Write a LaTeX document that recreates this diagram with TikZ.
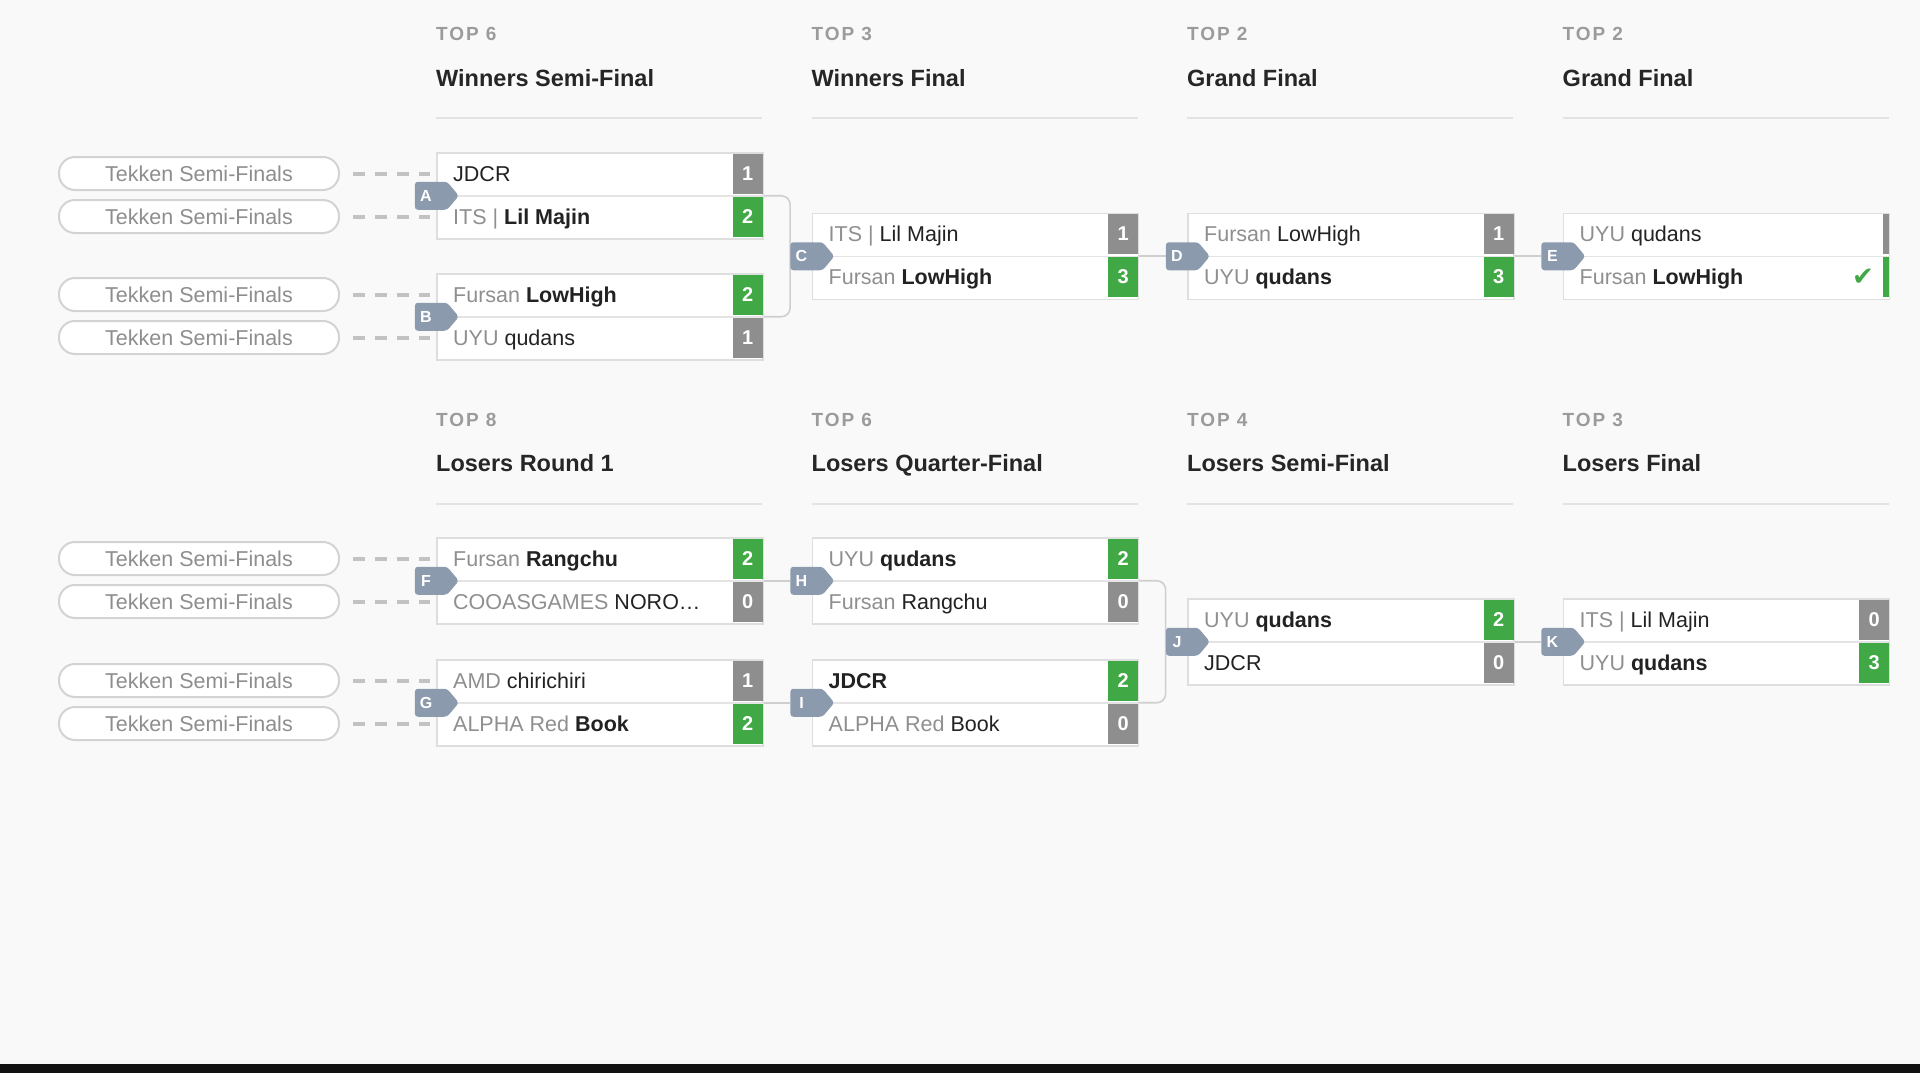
\documentclass[tikz,border=0pt]{standalone}
\usepackage{fontspec}
\setmainfont{Liberation Sans}
\newfontfamily\topfont[LetterSpace=10]{Liberation Sans}
\newfontfamily\symfont{DejaVu Sans}
\usetikzlibrary{calc,shapes.symbols}
\definecolor{bgc}{HTML}{F9F9F9}
\definecolor{boxc}{HTML}{DEDEDE}
\definecolor{divc}{HTML}{E4E4E4}
\definecolor{losecol}{HTML}{8E8E8E}
\definecolor{wincol}{HTML}{41A846}
\definecolor{badgec}{HTML}{8C9AAE}
\definecolor{pillc}{HTML}{D3D3D3}
\definecolor{pilltext}{HTML}{8E8E8E}
\definecolor{prec}{HTML}{8F8F8F}
\definecolor{namec}{HTML}{222222}
\definecolor{topc}{HTML}{9B9B9B}
\definecolor{titlec}{HTML}{262626}
\definecolor{sepc}{HTML}{E3E3E3}
\definecolor{dashc}{HTML}{C2C2C2}
\definecolor{linkc}{HTML}{CFCFCF}
\definecolor{barc}{HTML}{111111}
\newcommand\fsz[1]{\fontsize{#1}{#1}\selectfont}
\newcommand\ptag[1]{{\color{prec}#1}}
\newcommand\pwin[1]{{\bfseries #1}}
\pgfdeclarelayer{bglayer}
\pgfdeclarelayer{links}
\pgfsetlayers{bglayer,links,main}
\tikzset{
  matchbox/.style={draw=boxc, line width=1.5pt, fill=white, minimum width=326pt, minimum height=86pt, inner sep=0pt, anchor=north west},
  divline/.style={draw=divc, line width=1.5pt},
  rowtext/.style={anchor=base west, inner sep=0pt, text=namec, font=\fsz{21.5}},
  scorebox/.style={minimum width=30pt, minimum height=40pt, inner sep=0pt, text=white, font=\fsz{20}\bfseries},
  sidebar/.style={minimum width=6pt, minimum height=40pt, inner sep=0pt},
  badge/.style={signal, signal to=east, signal pointer angle=100, fill=badgec, minimum width=44pt, minimum height=28pt, inner sep=0pt, rounded corners=3pt},
  badgetext/.style={text=white, font=\fsz{16}\bfseries, inner sep=0pt},
  pill/.style={draw=pillc, line width=2pt, fill=white, rounded corners=16pt, minimum width=280pt, minimum height=33pt, inner sep=0pt, text=pilltext, font=\fsz{21.5}},
  dashlink/.style={draw=dashc, line width=4pt, dash pattern=on 12pt off 10pt, shorten <=13pt, shorten >=6pt},
  link/.style={draw=linkc, line width=1.6pt},
  toplabel/.style={anchor=base west, inner sep=0pt, text=topc, font=\topfont\fsz{19}\bfseries},
  titlelabel/.style={anchor=base west, inner sep=0pt, text=titlec, font=\fsz{23.5}\bfseries},
  sepline/.style={draw=sepc, line width=1.5pt},
  checkmark/.style={text=wincol, font=\symfont\fsz{26}, inner sep=0pt}
}
\newcommand\bmatch[9]{%
  \node[matchbox] (#1) at (#2,#3) {};
  \draw[divline] (#1.west) -- (#1.east);
  \node[rowtext] (#1n1) at ($(#1.north west)+(17,29)$) {#5};
  \node[rowtext] (#1n2) at ($(#1.north west)+(17,72)$) {#7};
  \ifnum#9=1 \def\sca{wincol}\def\scb{losecol}\else\def\sca{losecol}\def\scb{wincol}\fi
  \node[scorebox, fill=\sca] (#1s1) at ($(#1.north east)+(-15.75,21.5)$) {#6};
  \node[scorebox, fill=\scb] (#1s2) at ($(#1.north east)+(-15.75,64.5)$) {#8};
  \node[badge] (#1b) at ($(#1.west)+(-5,0)$) {};
  \node[badgetext] (#1l) at ($(#1b.center)+(-5,0)$) {#4};
}
\begin{document}
\begin{tikzpicture}[x=1pt,y=-1pt]
\useasboundingbox (0,0) rectangle (1920,1073);
\begin{pgfonlayer}{bglayer}
  \fill[bgc] (0,0) rectangle (1920,1073);
  \fill[barc] (0,1064) rectangle (1920,1073);
\end{pgfonlayer}

% headers - winners
\node[toplabel] (w1t) at (436,41) {TOP 6};
\node[titlelabel] (w1h) at (436,86) {Winners Semi-Final};
\node[toplabel] (w2t) at (811.5,41) {TOP 3};
\node[titlelabel] (w2h) at (811.5,86) {Winners Final};
\node[toplabel] (w3t) at (1187,41) {TOP 2};
\node[titlelabel] (w3h) at (1187,86) {Grand Final};
\node[toplabel] (w4t) at (1562.5,41) {TOP 2};
\node[titlelabel] (w4h) at (1562.5,86) {Grand Final};
\draw[sepline] (436,118) -- (762,118);
\draw[sepline] (811.5,118) -- (1137.5,118);
\draw[sepline] (1187,118) -- (1513,118);
\draw[sepline] (1562.5,118) -- (1888.5,118);

% headers - losers
\node[toplabel] (l1t) at (436,426) {TOP 8};
\node[titlelabel] (l1h) at (436,471) {Losers Round 1};
\node[toplabel] (l2t) at (811.5,426) {TOP 6};
\node[titlelabel] (l2h) at (811.5,471) {Losers Quarter-Final};
\node[toplabel] (l3t) at (1187,426) {TOP 4};
\node[titlelabel] (l3h) at (1187,471) {Losers Semi-Final};
\node[toplabel] (l4t) at (1562.5,426) {TOP 3};
\node[titlelabel] (l4h) at (1562.5,471) {Losers Final};
\draw[sepline] (436,504) -- (762,504);
\draw[sepline] (811.5,504) -- (1137.5,504);
\draw[sepline] (1187,504) -- (1513,504);
\draw[sepline] (1562.5,504) -- (1888.5,504);

% pills
\node[pill] (pA1) at (199,173.5) {Tekken Semi-Finals};
\node[pill] (pA2) at (199,216.5) {Tekken Semi-Finals};
\node[pill] (pB1) at (199,294.5) {Tekken Semi-Finals};
\node[pill] (pB2) at (199,337.5) {Tekken Semi-Finals};
\node[pill] (pF1) at (199,558.5) {Tekken Semi-Finals};
\node[pill] (pF2) at (199,601.5) {Tekken Semi-Finals};
\node[pill] (pG1) at (199,680.5) {Tekken Semi-Finals};
\node[pill] (pG2) at (199,723.5) {Tekken Semi-Finals};

% matches
\bmatch{A}{436}{152}{A}{JDCR}{1}{\ptag{ITS |} \pwin{Lil Majin}}{2}{2}
\bmatch{B}{436}{273}{B}{\ptag{Fursan} \pwin{LowHigh}}{2}{\ptag{UYU} qudans}{1}{1}
\bmatch{C}{811.5}{212.5}{C}{\ptag{ITS |} Lil Majin}{1}{\ptag{Fursan} \pwin{LowHigh}}{3}{2}
\bmatch{D}{1187}{212.5}{D}{\ptag{Fursan} LowHigh}{1}{\ptag{UYU} \pwin{qudans}}{3}{2}

\node[matchbox] (E) at (1562.5,212.5) {};
\draw[divline] (E.west) -- (E.east);
\node[rowtext] (En1) at ($(E.north west)+(17,29)$) {\ptag{UYU} qudans};
\node[rowtext] (En2) at ($(E.north west)+(17,72)$) {\ptag{Fursan} \pwin{LowHigh}};
\node[sidebar, fill=losecol] (Es1) at ($(E.north east)+(-3.75,21.5)$) {};
\node[sidebar, fill=wincol] (Es2) at ($(E.north east)+(-3.75,64.5)$) {};
\node[checkmark] (Eck) at ($(E.north east)+(-27,64.5)$) {✔};
\node[badge] (Eb) at ($(E.west)+(-5,0)$) {};
\node[badgetext] (El) at ($(Eb.center)+(-5,0)$) {E};

\bmatch{F}{436}{537}{F}{\ptag{Fursan} \pwin{Rangchu}}{2}{\ptag{COOASGAMES} NORO…}{0}{1}
\bmatch{G}{436}{659}{G}{\ptag{AMD} chirichiri}{1}{\ptag{ALPHA Red} \pwin{Book}}{2}{2}
\bmatch{H}{811.5}{537}{H}{\ptag{UYU} \pwin{qudans}}{2}{\ptag{Fursan} Rangchu}{0}{1}
\bmatch{I}{811.5}{659}{I}{\pwin{JDCR}}{2}{\ptag{ALPHA Red} Book}{0}{1}
\bmatch{J}{1187}{598}{J}{\ptag{UYU} \pwin{qudans}}{2}{JDCR}{0}{1}
\bmatch{K}{1562.5}{598}{K}{\ptag{ITS |} Lil Majin}{0}{\ptag{UYU} \pwin{qudans}}{3}{2}

\begin{pgfonlayer}{links}
  \foreach \p/\m in {pA1/A,pA2/A,pB1/B,pB2/B,pF1/F,pF2/F,pG1/G,pG2/G}
    \draw[dashlink] (\p.east) -- (\p.east -| \m.west);
  \draw[link, rounded corners=9pt] (A.east) -| (Cb.west) |- (B.east);
  \draw[link, rounded corners=9pt] (H.east) -| (Jb.west) |- (I.east);
  \draw[link] (C.east) -- (Db.west);
  \draw[link] (D.east) -- (Eb.west);
  \draw[link] (F.east) -- (Hb.west);
  \draw[link] (G.east) -- (Ib.west);
  \draw[link] (J.east) -- (Kb.west);
\end{pgfonlayer}
\end{tikzpicture}
\end{document}
